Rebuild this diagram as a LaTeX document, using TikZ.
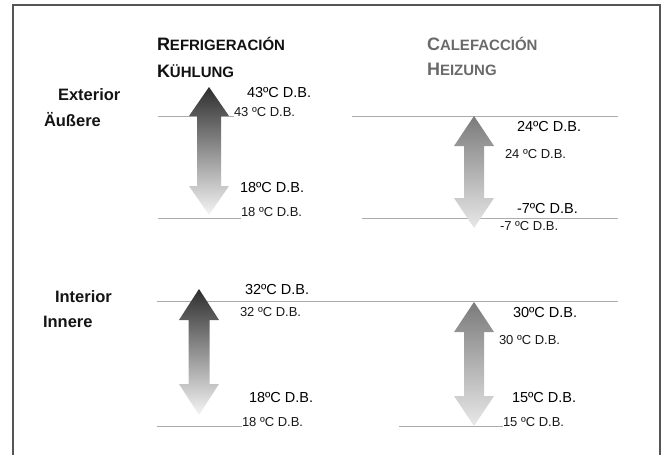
\documentclass[tikz,border=0pt]{standalone}
\usepackage{fontspec}
\setmainfont{Liberation Sans}
\usepackage{tikz}

\definecolor{framegray}{HTML}{555555}
\definecolor{rulegray}{HTML}{ABABAB}
\definecolor{headdark}{HTML}{111111}
\definecolor{headlight}{HTML}{6A6A6A}

% small caps made by hand (the font has none)
\newcommand{\scword}[2]{{\fontsize{18}{21}\selectfont #1}{\fontsize{15}{18}\selectfont #2}}
% double block arrow: centre x, top tip, bottom tip, head half width, shaft half width, head length, top colour, bottom colour
\newcommand{\temparrow}[8]{%
  \shade[top color=#7, bottom color=#8]
    (#1,#2) -- ({#1+#4},{#2+#6}) -- ({#1+#5},{#2+#6}) -- ({#1+#5},{#3-#6})
    -- ({#1+#4},{#3-#6}) -- (#1,#3) -- ({#1-#4},{#3-#6}) -- ({#1-#5},{#3-#6})
    -- ({#1-#5},{#2+#6}) -- ({#1-#4},{#2+#6}) -- cycle;}

\begin{document}
\begin{tikzpicture}[x=1pt, y=-1pt,
    every node/.style={inner sep=0pt, outer sep=0pt},
    zone/.style={anchor=base west, font=\bfseries\fontsize{16.5}{19}\selectfont, text=black!92},
    bigtemp/.style={anchor=base west, font=\fontsize{14.5}{17}\selectfont, text=black},
    smalltemp/.style={anchor=base west, font=\fontsize{13}{15}\selectfont, text=black!90},
    level/.style={draw=rulegray, line width=0.8pt}]
  \useasboundingbox (0,0) rectangle (664,455);

  % frame (open at the bottom)
  \draw[framegray, line width=2pt] (13,455) -- (13,5) -- (660,5) -- (660,455);

  % column titles
  \node[anchor=base west, font=\bfseries, text=headdark] (refri) at (157,50) {\scword{R}{EFRIGERACIÓN}};
  \node[anchor=base west, font=\bfseries, text=headdark] (kuehl) at (157,77) {\scword{K}{ÜHLUNG}};
  \node[anchor=base west, font=\bfseries, text=headlight] (calef) at (427,50) {\scword{C}{ALEFACCIÓN}};
  \node[anchor=base west, font=\bfseries, text=headlight] (heiz) at (427,75) {\scword{H}{EIZUNG}};

  % row titles
  \node[zone] (ext) at (58,100) {Exterior};
  \node[zone] (aus) at (44,126) {Äußere};
  \node[zone] (int) at (55,302) {Interior};
  \node[zone] (inn) at (43,327) {Innere};

  % level lines
  \coordinate (l1a) at (158,116); \coordinate (l1b) at (234,116);
  \coordinate (l2a) at (158,218); \coordinate (l2b) at (241,218);
  \coordinate (l3a) at (352,116); \coordinate (l3b) at (618,116);
  \coordinate (l4a) at (362,218); \coordinate (l4b) at (618,218);
  \coordinate (l5a) at (157,301); \coordinate (l5b) at (618,301);
  \coordinate (l6a) at (157,426); \coordinate (l6b) at (242,426);
  \coordinate (l7a) at (399,426); \coordinate (l7b) at (503,426);
  \foreach \a/\b in {l1a/l1b, l2a/l2b, l3a/l3b, l4a/l4b, l5a/l5b, l6a/l6b, l7a/l7b}
    \draw[level] (\a) -- (\b);

  % arrows
  \temparrow{209}{87}{215}{20}{12}{29}{black!82}{black!4}
  \temparrow{474}{116}{228}{20}{10}{30}{black!52}{black!9}
  \temparrow{199}{289}{415}{20}{10.5}{31}{black!82}{black!4}
  \temparrow{474}{302}{426}{20}{10}{30}{black!52}{black!9}

  % cooling, outside
  \node[bigtemp] (c43) at (247,97) {43ºC D.B.};
  \node[smalltemp] (c43s) at (l1b) {43 ºC D.B.};
  \node[bigtemp] (c18) at (240,192) {18ºC D.B.};
  \node[smalltemp] (c18s) at (241,216) {18 ºC D.B.};

  % heating, outside
  \node[bigtemp] (h24) at (517,131) {24ºC D.B.};
  \node[smalltemp] (h24s) at (505,158) {24 ºC D.B.};
  \node[bigtemp] (h7) at (517,213) {-7ºC D.B.};
  \node[smalltemp] (h7s) at (500,230) {-7 ºC D.B.};

  % cooling, inside
  \node[bigtemp] (c32) at (245,294) {32ºC D.B.};
  \node[smalltemp] (c32s) at (240,316) {32 ºC D.B.};
  \node[bigtemp] (c18i) at (249,402) {18ºC D.B.};
  \node[smalltemp] (c18is) at (l6b) {18 ºC D.B.};

  % heating, inside
  \node[bigtemp] (h30) at (513,317) {30ºC D.B.};
  \node[smalltemp] (h30s) at (499,344) {30 ºC D.B.};
  \node[bigtemp] (h15) at (512,402) {15ºC D.B.};
  \node[smalltemp] (h15s) at (l7b) {15 ºC D.B.};
\end{tikzpicture}
\end{document}
